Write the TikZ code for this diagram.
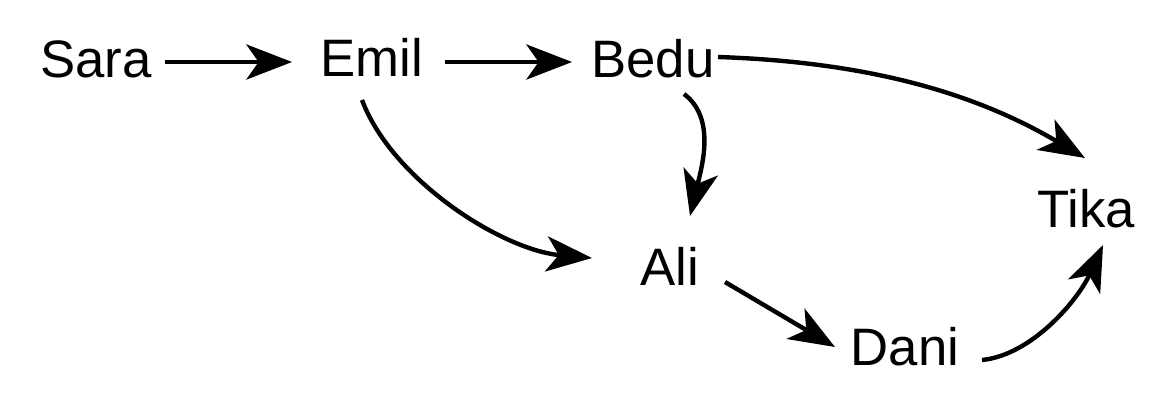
\documentclass[tikz,border=0pt]{standalone}
\usepackage{fontspec}
\setmainfont{Liberation Sans}
\usetikzlibrary{arrows.meta}
\tikzset{
  person/.style={anchor=base,inner sep=0pt,font=\fontsize{30}{32}\selectfont},
  arr/.style={-{Stealth[length=26pt,width=20pt,inset=7pt]},line width=2.5pt}
}
\begin{document}
\begin{tikzpicture}[x=0.02cm,y=-0.02cm]
  \useasboundingbox (0,0) rectangle (1175,419);
  \node[person] (sara) at (96,77) {Sara};
  \node[person] (emil) at (372,76) {Emil};
  \node[person] (bedu) at (653,77) {Bedu};
  \node[person] (ali) at (670,285) {Ali};
  \node[person] (tika) at (1086,227) {Tika};
  \node[person] (dani) at (905,365) {Dani};
  \draw[arr] ([shift={(69,-15)}]sara.base) -- ([shift={(-80,-14)}]emil.base);
  \draw[arr] ([shift={(73,-14)}]emil.base) -- ([shift={(-81,-15)}]bedu.base);
  \draw[arr] ([shift={(65,-20)}]bedu.base) .. controls +(150,5) and +(-110,-65) .. ([shift={(-1,-69)}]tika.base);
  \draw[arr] ([shift={(31,17)}]bedu.base) .. controls +(32,24) and +(12,-50) .. ([shift={(20,-69)}]ali.base);
  \draw[arr] ([shift={(-10,24)}]emil.base) .. controls +(30,80) and +(-90,-8) .. ([shift={(-78,-27)}]ali.base);
  \draw[arr] ([shift={(55,-3)}]ali.base) -- ([shift={(-70,-18)}]dani.base);
  \draw[arr] ([shift={(77,-5)}]dani.base) .. controls +(50,-5) and +(-25,55) .. ([shift={(17,18)}]tika.base);
\end{tikzpicture}
\end{document}
